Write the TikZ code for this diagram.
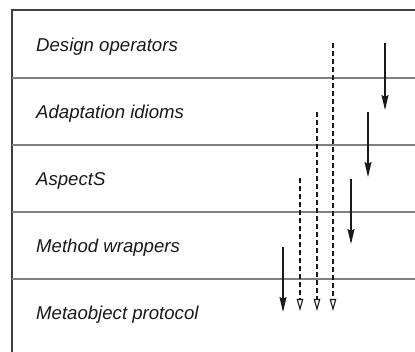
\documentclass[tikz,border=0pt]{standalone}
\usepackage{fontspec}
\setmainfont{Liberation Sans}
\usetikzlibrary{arrows.meta}
\begin{document}
\begin{tikzpicture}[x=1pt,y=-1pt,
    layer/.style={anchor=base west,inner sep=0pt,text=black!90,
      font=\fontsize{18.6}{22}\selectfont\itshape},
    call/.style={line width=1.6pt,-{Stealth[length=15pt,width=7pt,inset=2pt]}},
    wrap/.style={line width=1.3pt,dash pattern=on 5pt off 3pt,
      -{Triangle[open,length=12pt,width=6.5pt,fill=white,line width=1.1pt]}}]
      \useasboundingbox (0,0) rectangle (415,352);
      \draw[black!75,line width=1.8pt] (415,10) -- (12,10) -- (12,352);
      \foreach \y in {78,145,212,279}
        \draw[black!50,line width=1.5pt] (12,\y) -- (415,\y);
      \draw
        (36,52) node[layer] (design){Design operators}
        (36,119) node[layer] (idioms){Adaptation idioms}
        (36,186) node[layer] (aspects){AspectS}
        (36,253) node[layer] (wrappers){Method wrappers}
        (36,320) node[layer] (mop){Metaobject protocol};
      \coordinate (d1) at (385,43);  \coordinate (d2) at (385,110);
      \coordinate (i1) at (368,112); \coordinate (i2) at (368,177);
      \coordinate (a1) at (351,179); \coordinate (a2) at (351,244);
      \coordinate (w1) at (283,247); \coordinate (w2) at (283,312);
      \coordinate (p3) at (333,43);  \coordinate (q3) at (333,311);
      \coordinate (p2) at (317,112); \coordinate (q2) at (317,311);
      \coordinate (p1) at (300,178); \coordinate (q1) at (300,311);
      \begin{scope}[black!90]
        \draw[call] (d1) to (d2);
        \draw[call] (i1) to (i2);
        \draw[call] (a1) to (a2);
        \draw[call] (w1) to (w2);
        \draw[wrap] (p3) to (q3);
        \draw[wrap] (p2) to (q2);
        \draw[wrap] (p1) to (q1);
      \end{scope}
    \end{tikzpicture}
\end{document}
